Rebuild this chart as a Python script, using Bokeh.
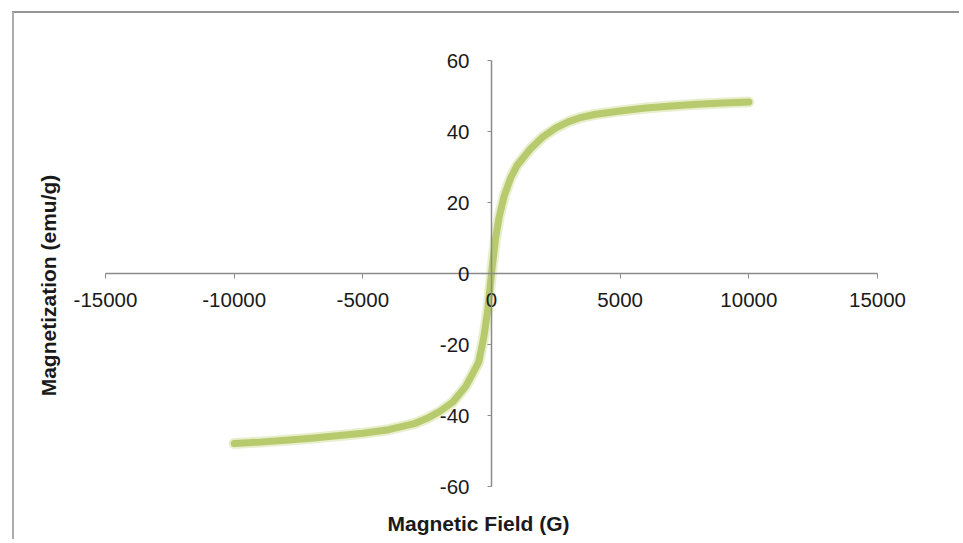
import math
from bokeh.plotting import figure
from bokeh.models import LinearAxis, FixedTicker, Range1d, ColumnDataSource, Label
from bokeh.embed import file_html
from bokeh.resources import INLINE

# ---- data ----
field_g = [-10000, -9000, -8000, -7000, -6000, -5000, -4000, -3000, -2500, -2000,
           -1500, -1000, -700, -500, -300, -150, 0, 150, 300, 500, 750, 1000,
           1500, 2000, 2500, 3000, 3500, 4000, 5000, 6000, 7000, 8000, 9000, 10000]
magnetization = [-47.9, -47.5, -47.0, -46.4, -45.7, -45.0, -44.0, -42.3, -40.8, -38.8,
                 -36.2, -31.8, -27.8, -25.0, -18.0, -10.5, 0.0, 9.5, 16.0, 22.0, 27.0, 30.5,
                 35.0, 38.5, 41.0, 42.8, 44.0, 44.8, 45.8, 46.6, 47.2, 47.7, 48.0, 48.3]
x_ticks = [-15000, -10000, -5000, 0, 5000, 10000, 15000]
y_ticks = [-60, -40, -20, 0, 20, 40, 60]
x_title = "Magnetic Field (G)"
y_title = "Magnetization (emu/g)"

# ---- layout geometry (frame = whole canvas) ----
W, H = 947, 528
cx0, cy0 = 14, 13              # page position of canvas origin
x_px_min, x_px_max = 105, 877  # page x of first/last x tick
y_px_top, y_px_bot = 60, 486   # page y of top/bottom y tick
sx = (x_px_max - x_px_min) / (x_ticks[-1] - x_ticks[0])
sy = (y_px_bot - y_px_top) / (y_ticks[-1] - y_ticks[0])
x_start = x_ticks[0] - (x_px_min - cx0) / sx
x_end = x_ticks[-1] + (cx0 + W - x_px_max) / sx
y_end = y_ticks[-1] + (y_px_top - cy0) / sy
y_start = y_ticks[0] - (cy0 + H - y_px_bot) / sy

p = figure(width=W, height=H, output_backend="svg", toolbar_location=None,
           x_axis_type=None, y_axis_type=None,
           x_range=Range1d(x_start, x_end), y_range=Range1d(y_start, y_end),
           min_border=0)
p.outline_line_color = None
p.grid.visible = False
p.background_fill_color = "white"
p.border_fill_color = "white"
p.styles = {"border-left": "2px solid #acacac", "border-top": "2px solid #959595",
            "margin-left": "12px", "margin-top": "11px"}

FONT = "Liberation Sans"

# axes crossing at origin
xa = LinearAxis(fixed_location=0, ticker=FixedTicker(ticks=x_ticks),
                bounds=(x_ticks[0], x_ticks[-1]))
ya = LinearAxis(fixed_location=0, ticker=FixedTicker(ticks=y_ticks),
                bounds=(y_ticks[0], y_ticks[-1]))
xa.major_label_overrides = {t: str(t) for t in x_ticks}
ya.major_label_overrides = {t: str(t) for t in y_ticks}
for ax, out, standoff in ((xa, 5, 14), (ya, 4, 18)):
    ax.axis_line_color = "#8a8a8a"
    ax.axis_line_width = 1.5
    ax.major_tick_line_color = "#8a8a8a"
    ax.major_tick_in = 0
    ax.major_tick_out = out
    ax.minor_tick_line_color = None
    ax.major_label_text_font = FONT
    ax.major_label_text_font_size = "20.5px"
    ax.major_label_text_color = "#1a1a1a"
    ax.major_label_standoff = standoff
p.add_layout(xa, "below")
p.add_layout(ya, "left")

# axis titles
title_style = dict(text_font=FONT, text_font_size="21px", text_font_style="bold",
                   text_color="#1a1a1a", text_align="center", text_baseline="middle",
                   x_units="screen", y_units="screen")
p.add_layout(Label(x=478 - cx0, y=cy0 + H - 523, text=x_title, **title_style))
p.add_layout(Label(x=48 - cx0, y=cy0 + H - 285, text=y_title, angle=math.pi / 2,
                   **title_style))

src = ColumnDataSource(dict(x=field_g, y=magnetization))
p.line("x", "y", source=src, line_color="#dbe5ae", line_width=11, line_cap="round",
       line_join="round", line_alpha=0.6)
p.line("x", "y", source=src, line_color="#b7cb6e", line_width=7, line_cap="round",
       line_join="round")

open("out.html", "w").write(file_html(p, INLINE))
